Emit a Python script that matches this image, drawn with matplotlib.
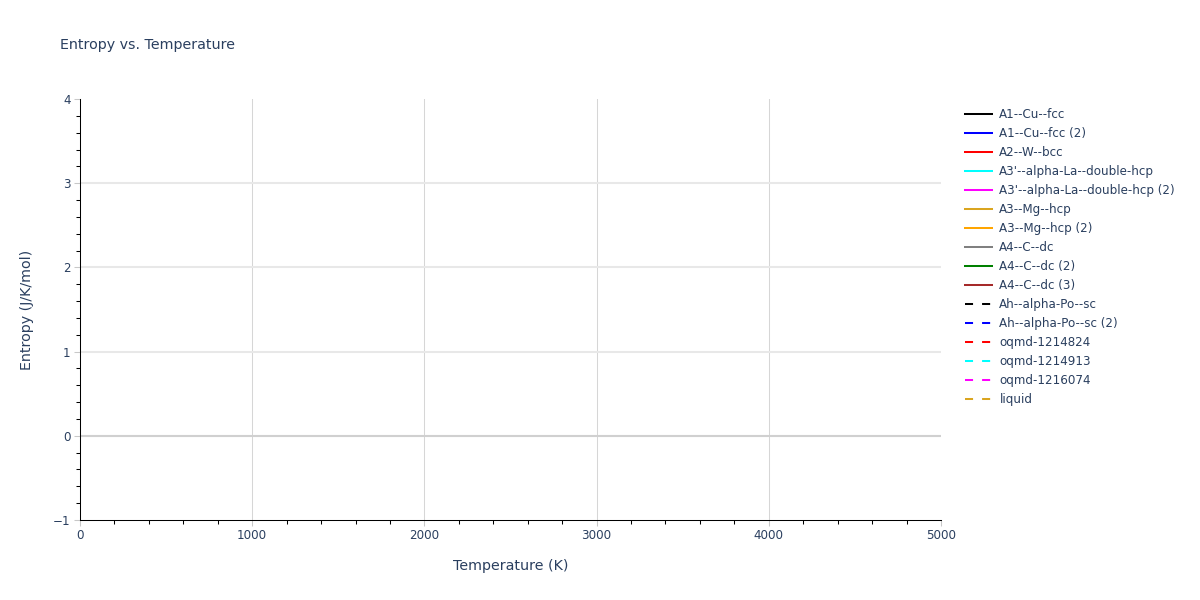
import matplotlib
matplotlib.use('Agg')
import matplotlib.pyplot as plt
from matplotlib.ticker import MultipleLocator

# phases listed in the legend; every trace in the reference is empty
phases = ['A1--Cu--fcc', 'A1--Cu--fcc (2)', 'A2--W--bcc',
          "A3'--alpha-La--double-hcp", "A3'--alpha-La--double-hcp (2)",
          'A3--Mg--hcp', 'A3--Mg--hcp (2)', 'A4--C--dc', 'A4--C--dc (2)',
          'A4--C--dc (3)', 'Ah--alpha-Po--sc', 'Ah--alpha-Po--sc (2)',
          'oqmd-1214824', 'oqmd-1214913', 'oqmd-1216074', 'liquid']
temperature = {p: [] for p in phases}
entropy = {p: [] for p in phases}

colors = ['black', 'blue', 'red', 'cyan', 'magenta', 'goldenrod', 'orange',
          'gray', 'green', 'brown', 'black', 'blue', 'red', 'cyan',
          'magenta', 'goldenrod']
dashed = [False] * 10 + [True] * 6

TXT = '#2a3f5f'
plt.rcParams['font.family'] = ['DejaVu Sans']
plt.rcParams['lines.scale_dashes'] = False

fig = plt.figure(figsize=(12, 6), dpi=100, facecolor='white')
ax = fig.add_axes([80 / 1200, 1 - 520 / 600, 861 / 1200, 421 / 600])

handles = []
for p, c, d in zip(phases, colors, dashed):
    ln, = ax.plot(temperature[p], entropy[p], color=c, lw=1.45, label=p)
    if d:
        ln.set_dashes((5.8, 6.5))
    handles.append(ln)

ax.set_xlim(0, 5000)
ax.set_ylim(-1, 4)
ax.xaxis.set_major_locator(MultipleLocator(1000))
ax.xaxis.set_minor_locator(MultipleLocator(200))
ax.yaxis.set_major_locator(MultipleLocator(1))
ax.yaxis.set_minor_locator(MultipleLocator(0.2))

for s in ['top', 'right']:
    ax.spines[s].set_visible(False)
for s in ['left', 'bottom']:
    ax.spines[s].set_color('black')
    ax.spines[s].set_linewidth(0.75)

ax.tick_params(which='major', length=4.2, width=0.75, color='#c8c8c8',
               labelsize=8.6, labelcolor=TXT, pad=2.5)
ax.tick_params(which='minor', length=2.8, width=0.75, color='black')

ax.grid(False)
for xv in ax.get_xticks():
    if 0 < xv < 5000:
        ax.axvline(xv, color='#d6d6d6', lw=0.75, zorder=0)
for yv in ax.get_yticks():
    if yv != 0 and -1 < yv < 4:
        ax.axhline(yv, color='#e8e8e8', lw=1.5, zorder=0)
ax.axhline(0, color='#d0d0d0', lw=1.5, zorder=0.5)

ax.set_xlabel('Temperature (K)', fontsize=10.3, color=TXT, labelpad=12)
ax.set_ylabel('Entropy (J/K/mol)', fontsize=10.3, color=TXT, labelpad=14)
fig.text(60 / 1200, 1 - 45 / 600, 'Entropy vs. Temperature', fontsize=10.3,
         color=TXT, va='center', ha='left')

leg = fig.legend(handles=handles, loc='upper left',
                 bbox_to_anchor=(965 / 1200, 1 - 108 / 600),
                 frameon=False, fontsize=8.6, handlelength=2.3,
                 handletextpad=0.58, labelspacing=0.505, borderpad=0,
                 borderaxespad=0)
for t in leg.get_texts():
    t.set_color(TXT)

fig.savefig('out.png', dpi=100, facecolor='white')
